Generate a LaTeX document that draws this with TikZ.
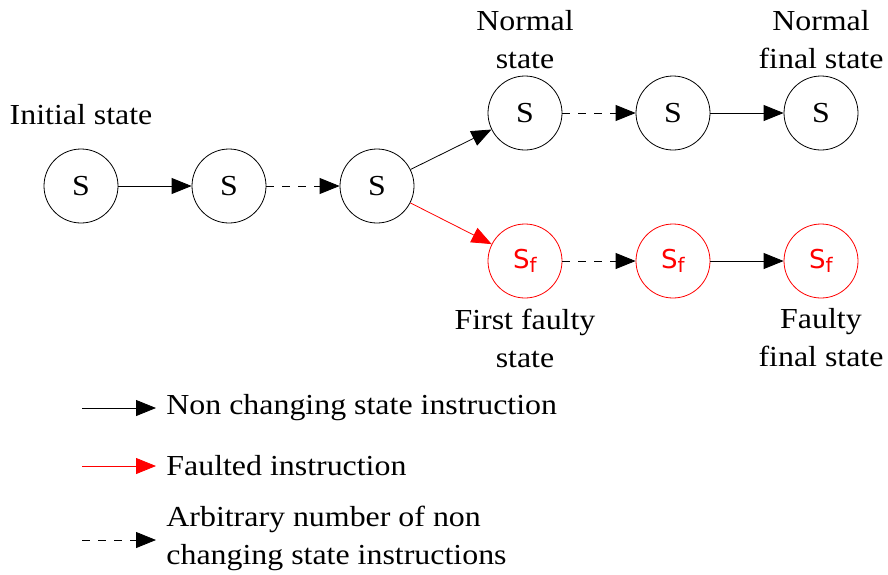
\documentclass[tikz,border=0pt]{standalone}
\usepackage{fontspec}
\setmainfont{Liberation Serif}[FakeStretch=1.1]
\setsansfont{DejaVu Sans}
\usetikzlibrary{arrows.meta}
\begin{document}
\begin{tikzpicture}[x=0.5pt,y=-0.5pt,
  font=\fontsize{14.5}{19}\selectfont,
  st/.style={circle,draw,line width=0.4pt,minimum size=37pt,inner sep=0pt},
  fst/.style={st,draw=red,text=red},
  lbl/.style={align=center,inner sep=0pt},
  tr/.style={line width=0.4pt,-{Triangle[length=10pt,width=8pt]}},
  dtr/.style={tr,dash pattern=on 4pt off 4pt},
  ftr/.style={tr,draw=red,-{Triangle[length=10pt,width=8pt,fill=red]}}]
\useasboundingbox (0,0) rectangle (888,574);
% states
\node[st] (s1) at (81,186) {S};
\node[st] (s2) at (229,186) {S};
\node[st] (s3) at (377,186) {S};
\node[st] (n1) at (525,113) {S};
\node[st] (n2) at (673,113) {S};
\node[st] (n3) at (821,113) {S};
\node[fst] (f1) at (525,261) {\sffamily\fontsize{13}{15}\selectfont S\raisebox{-0.3ex}{\fontsize{10}{12}\selectfont f}};
\node[fst] (f2) at (673,261) {\sffamily\fontsize{13}{15}\selectfont S\raisebox{-0.3ex}{\fontsize{10}{12}\selectfont f}};
\node[fst] (f3) at (821,261) {\sffamily\fontsize{13}{15}\selectfont S\raisebox{-0.3ex}{\fontsize{10}{12}\selectfont f}};
% labels
\node[lbl] (linit) at (81,115) {Initial state};
\node[lbl] (lnorm) at (525,40) {Normal\\state};
\node[lbl] (lnfin) at (821,40) {Normal\\final state};
\node[lbl] (lfirst) at (525,338) {First faulty\\state};
\node[lbl] (lffin) at (821,338) {Faulty\\final state};
% transitions
\draw[tr] (s1) -- (s2);
\draw[dtr] (s2) -- (s3);
\draw[tr] (s3) -- (n1);
\draw[ftr] (s3) -- (f1);
\draw[dtr] (n1) -- (n2);
\draw[tr] (n2) -- (n3);
\draw[dtr] (f1) -- (f2);
\draw[tr] (f2) -- (f3);
% legend
\node[anchor=west,inner sep=0pt] (t1) at (166,408) {Non changing state instruction};
\node[anchor=west,inner sep=0pt] (t2) at (166,466) {Faulted instruction};
\node[anchor=west,inner sep=0pt,align=left] (t3) at (166,538) {Arbitrary number of non\\changing state instructions};
\coordinate (a1) at (82,408);
\coordinate (a2) at (82,466);
\coordinate (a3) at (82,540);
\draw[tr] (a1) -- ([xshift=-5pt]t1.west);
\draw[ftr] (a2) -- ([xshift=-5pt]t2.west);
\draw[dtr] (a3) -- ([xshift=-5pt]t3.west |- a3);
\end{tikzpicture}
\end{document}
